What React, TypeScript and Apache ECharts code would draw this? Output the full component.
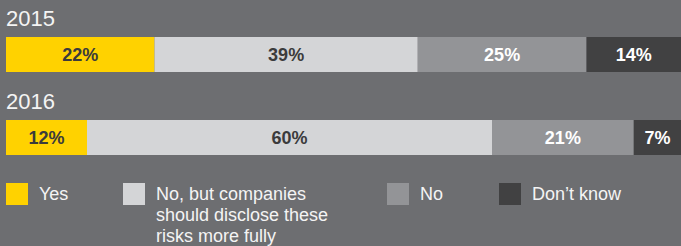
import React, { useEffect, useRef } from "react";
import * as echarts from "echarts";

const years = ["2015", "2016"];
const seriesNames = ["Yes", "No, but companies should disclose these risks more fully", "No", "Don’t know"];
const yesValues = [22, 12];
const noButValues = [39, 60];
const noValues = [25, 21];
const dontKnowValues = [14, 7];

const colors = ["#ffd200", "#d4d5d7", "#939497", "#414142"];
const labelColors = ["#3b3b3c", "#3b3b3c", "#ffffff", "#ffffff"];
const legendLefts = [6, 123, 387, 499];

export default function App() {
  const ref = useRef<HTMLDivElement>(null);
  useEffect(() => {
    if (!ref.current) return;
    const chart = echarts.init(ref.current, null, { renderer: "svg" });
    const values = [yesValues, noButValues, noValues, dontKnowValues];
    const font = "'Liberation Sans', Arial, sans-serif";
    chart.setOption({
      animation: false,
      backgroundColor: "#6d6e71",
      grid: { left: 6, right: 0, top: 13, height: 166, containLabel: false, outerBoundsMode: "none" },
      xAxis: { type: "value", min: 0, max: 100, show: false },
      yAxis: {
        type: "category",
        data: years,
        inverse: true,
        axisLine: { show: false },
        axisTick: { show: false },
        splitLine: { show: false },
        axisLabel: {
          inside: true,
          margin: 0,
          align: "left",
          verticalAlign: "bottom",
          lineHeight: 72,
          color: "#f4f4f4",
          fontSize: 22,
          fontFamily: font,
        },
      },
      legend: seriesNames.map((n, i) => ({
        data: [n],
        left: legendLefts[i],
        top: i === 1 ? 141.5 : 183,
        padding: 0,
        itemWidth: 22,
        itemHeight: 22,
        icon: "rect",
        selectedMode: false,
        formatter: i === 1 ? () => " \n \nNo, but companies\nshould disclose these\nrisks more fully" : undefined,
        textStyle: {
          color: "#f4f4f4",
          fontSize: 18,
          fontFamily: font,
          lineHeight: 21,
          padding: [0, 0, 0, 6],
        },
      })),
      series: seriesNames.map((n, i) => ({
        name: n,
        type: "bar",
        stack: "total",
        barWidth: 35,
        data: values[i],
        itemStyle: { color: colors[i] },
        label: {
          show: true,
          position: "inside",
          formatter: "{c}%",
          color: labelColors[i],
          fontSize: 18,
          fontWeight: "bold",
          fontFamily: font,
        },
      })),
    });
    return () => chart.dispose();
  }, []);
  return <div ref={ref} style={{ width: 681, height: 246, position: "absolute", left: 0, top: 0 }} />;
}
